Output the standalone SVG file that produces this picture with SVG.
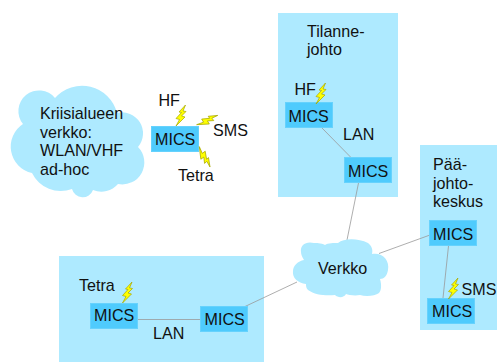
<svg xmlns="http://www.w3.org/2000/svg" width="497" height="362" viewBox="0 0 497 362">
<style>
text{font-family:"Liberation Sans",Arial,sans-serif;font-size:16.100px;fill:#111}
.panel{fill:#aeeaff}
.cloud{fill:#aeeaff}
.box{fill:#4fcbfd;stroke:#66d2fd;stroke-width:1}
.link{stroke:#999;stroke-width:.8;fill:none}
.bolt{fill:#ffff00;stroke:#a6a600;stroke-width:.7}
</style>
<defs>
<path id="bolt" d="M10 0L3.500 7L6 7.500L0.500 13.500L4 14.500L0.500 21L9.500 12L6 11L10.500 6.500L7.500 6Z" class="bolt"/>
</defs>
<g id="panel-tilanne"><rect class="panel" x="278" y="13" width="120" height="184"/><text x="307" y="36.500">Tilanne-</text><text x="307" y="55">johto</text></g>
<g id="panel-paa"><rect class="panel" x="420" y="145" width="77" height="185"/><text x="433" y="170">Pää-</text><text x="433" y="189">johto-</text><text x="433" y="207">keskus</text></g>
<g id="panel-bottom"><rect class="panel" x="59" y="256" width="205" height="106"/></g>
<g id="connectors">
<line class="link" x1="322" y1="128" x2="350.500" y2="157"/>
<line class="link" x1="358.500" y1="183" x2="347" y2="240"/>
<line class="link" x1="430" y1="235" x2="379" y2="253.500"/>
<line class="link" x1="448.500" y1="246" x2="443" y2="298"/>
<line class="link" x1="138" y1="319.500" x2="200" y2="319.500"/>
<line class="link" x1="245" y1="306.500" x2="297" y2="282"/>
</g>
<g id="cloud-kriisi"><path class="cloud" d="M23 124A19 19 0 0 1 55 98A36 36 0 0 1 117 113A21 21 0 0 1 138 147A22 22 0 0 1 118 184A22 22 0 0 1 93 190A11 11 0 0 1 72 189A32 32 0 0 1 32 173A27 27 0 0 1 23 124Z"/><text x="40" y="119">Kriisialueen</text><text x="40" y="137.500">verkko:</text><text x="40" y="156">WLAN/VHF</text><text x="40" y="174.500">ad-hoc</text></g>
<g id="cloud-verkko"><path class="cloud" d="M301 252C300 245 306 241 314 243C316 243 321 243 325 245C328 243 334 243 338 243C344 238 358 238 368 243C372 246 373 250 372 254C382 252 390 260 388 270C387 276 384 279 380 279C382 286 381 291 379 293C375 296 366 297 360 295C355 296 348 295 346 294C344 298 338 298 335 295C326 296 315 295 308 290C306 288 306 286 306 284C298 283 292 278 293 271C293 266 298 261 304 260C302 257 301 254 301 252Z"/><text x="318" y="274">Verkko</text></g>
<g id="mics-main"><rect class="box" x="151.500" y="126.500" width="47" height="25"/><text x="155" y="144.500">MICS</text><use href="#bolt" transform="translate(175.500,105)"/><use href="#bolt" transform="translate(197,125) rotate(42) translate(-1,-21)"/><use href="#bolt" transform="translate(199,147) rotate(128) translate(-1,-21)"/><text x="158.500" y="106">HF</text><text x="213" y="136">SMS</text><text x="178" y="181">Tetra</text></g>
<g id="mics-tilanne1"><rect class="box" x="285.500" y="102.500" width="47" height="25"/><text x="288.500" y="121.500">MICS</text><text x="294.500" y="95">HF</text><use href="#bolt" transform="translate(315.500,83)"/><text x="343" y="140">LAN</text></g>
<g id="mics-tilanne2"><rect class="box" x="344.500" y="157.500" width="47" height="25"/><text x="348" y="176.500">MICS</text></g>
<g id="mics-paa1"><rect class="box" x="429.500" y="220.500" width="47" height="25"/><text x="433" y="239.500">MICS</text></g>
<g id="mics-paa2"><rect class="box" x="427.500" y="298.500" width="47" height="25"/><text x="432" y="316.500">MICS</text><use href="#bolt" transform="translate(448,278)"/><text x="461.500" y="295">SMS</text></g>
<g id="mics-bottom1"><rect class="box" x="90.500" y="303.500" width="47" height="25"/><text x="94" y="321">MICS</text><use href="#bolt" transform="translate(122,282)"/><text x="79" y="291">Tetra</text><text x="153" y="339">LAN</text></g>
<g id="mics-bottom2"><rect class="box" x="200.500" y="306.500" width="47" height="25"/><text x="204.500" y="325">MICS</text></g>
</svg>
